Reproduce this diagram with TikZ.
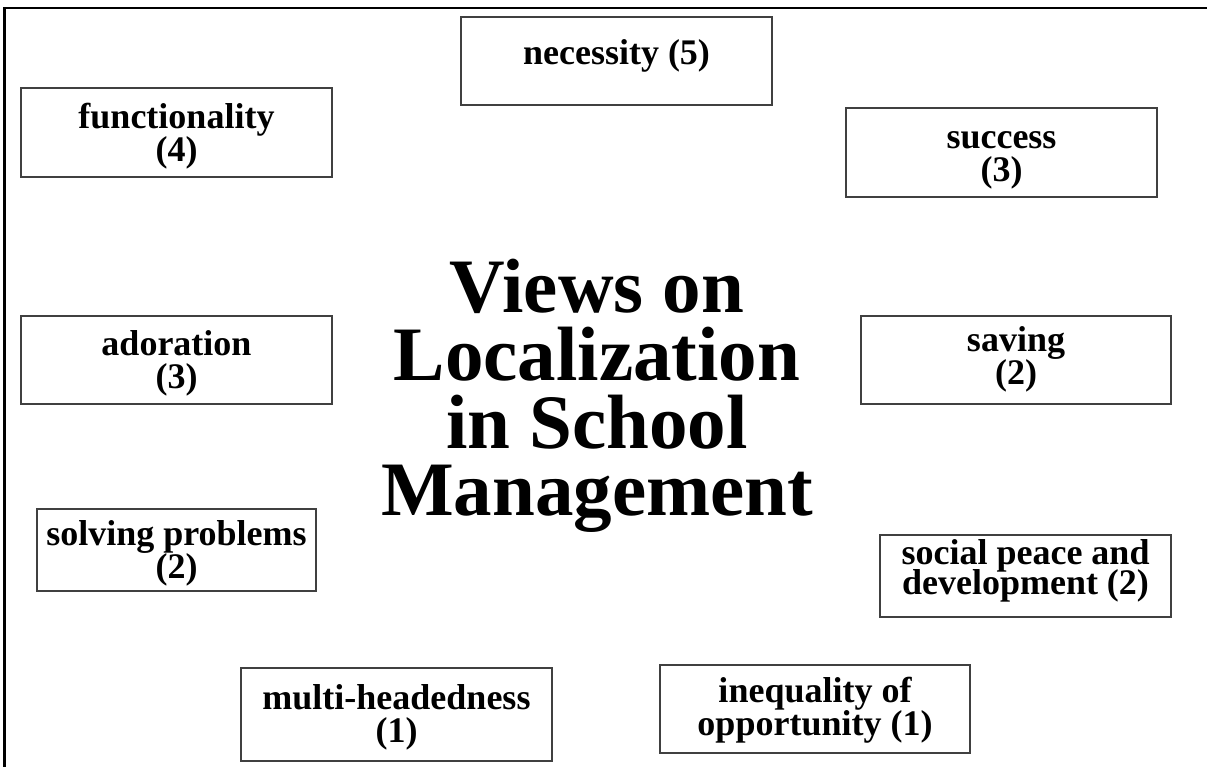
\documentclass[tikz,border=0pt]{standalone}
\usepackage{fontspec}
\setmainfont{Liberation Serif}
% move one line of a label up (positive) or down (negative) without changing its box
\newcommand{\shiftline}[2]{\raisebox{#1}[\height][\depth]{#2}}
\begin{document}
\begin{tikzpicture}[x=1pt,y=-1pt,
  viewbox/.style={draw=black!75, line width=1.6pt, inner sep=0pt, align=center,
    font=\bfseries\fontsize{36}{33}\selectfont},
  titletext/.style={inner sep=0pt, align=center,
    font=\bfseries\fontsize{77}{67.7}\selectfont}]
  \useasboundingbox (0,0) rectangle (1207,767);
  % open frame along the top and left edges
  \coordinate (frameTR) at (1210,8);
  \coordinate (frameTL) at (4.5,8);
  \coordinate (frameBL) at (4.5,770);
  \draw[line width=2.6pt] (frameTR) -- (frameTL) -- (frameBL);

  % central title
  \node[titletext] (title) at (597,396) {Views on\\Localization\\in School\\Management};

  % surrounding views with their counts
  \node[viewbox, minimum width=311, minimum height=88] (necessity) at (616.5,61)
    {\shiftline{5pt}{necessity (5)}};
  \node[viewbox, minimum width=311, minimum height=89] (functionality) at (176.5,132.5)
    {\shiftline{-3.5pt}{functionality}\\\shiftline{-3.5pt}{(4)}};
  \node[viewbox, minimum width=311, minimum height=89] (success) at (1001.5,152.5)
    {\shiftline{-8pt}{success}\\\shiftline{-8pt}{(3)}};
  \node[viewbox, minimum width=311, minimum height=88] (adoration) at (176.5,360)
    {\shiftline{-3pt}{adoration}\\\shiftline{-3pt}{(3)}};
  \node[viewbox, minimum width=310, minimum height=88] (saving) at (1016,360)
    {\shiftline{1pt}{saving}\\\shiftline{1pt}{(2)}};
  \node[viewbox, minimum width=279, minimum height=82] (solving) at (176.5,550)
    {\shiftline{-3.5pt}{solving problems}\\\shiftline{-3pt}{(2)}};
  \node[viewbox, minimum width=291, minimum height=82] (social) at (1025.5,576)
    {\shiftline{4pt}{social peace and}\\\shiftline{7pt}{development (2)}};
  \node[viewbox, minimum width=311, minimum height=93] (multi) at (396.5,714.5)
    {\shiftline{-3pt}{multi-headedness}\\\shiftline{-2.5pt}{(1)}};
  \node[viewbox, minimum width=310, minimum height=88] (inequality) at (815,709)
    {\shiftline{-1.5pt}{inequality of}\\\shiftline{-1.5pt}{opportunity (1)}};
\end{tikzpicture}
\end{document}
